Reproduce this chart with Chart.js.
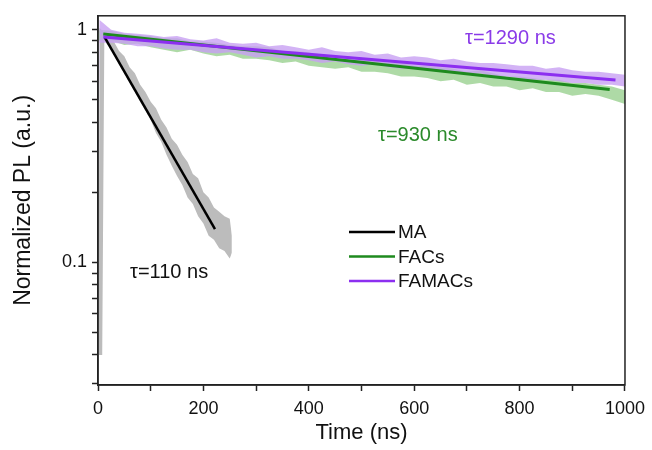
<!DOCTYPE html>
<html>
<head>
<meta charset="utf-8">
<script src="https://cdn.jsdelivr.net/npm/chart.js@4.4.1/dist/chart.umd.min.js"></script>
<style>
  html, body { margin: 0; padding: 0; background: #fff; }
</style>
</head>
<body>
<canvas id="chart" width="652" height="450"></canvas>
<script>
// tick positions and labels
const xTicks = [0, 100, 200, 300, 400, 500, 600, 700, 800, 900, 1000];
const xLabels = [0, 200, 400, 600, 800, 1000];
const yTicks = [0.03, 0.04, 0.05, 0.06, 0.07, 0.08, 0.09, 0.1, 0.2, 0.3, 0.4, 0.5, 0.6, 0.7, 0.8, 0.9, 1];
const yLabels = [0.1, 1];

const seriesNames = ["MA", "FACs", "FAMACs"];
const tauLabels = ["τ=110 ns", "τ=930 ns", "τ=1290 ns"];

// MA raw decay (gray band, upper / lower edge of the noise)
const maTime = [1, 3, 8, 12, 20, 30, 40, 50, 60, 70, 80, 90, 100, 110, 120, 130, 140, 150, 160, 170, 180, 190, 200, 210, 220, 230, 240, 250, 254];
const maHigh = [0.045, 1.02, 0.99, 0.97, 0.93, 0.89, 0.81, 0.77, 0.69, 0.65, 0.58, 0.54, 0.49, 0.46, 0.41, 0.38, 0.34, 0.32, 0.29, 0.27, 0.24, 0.23, 0.20, 0.19, 0.172, 0.165, 0.158, 0.154, 0.13];
const maLow = [0.04, 0.04, 0.04, 0.90, 0.85, 0.78, 0.71, 0.65, 0.59, 0.54, 0.49, 0.45, 0.41, 0.36, 0.33, 0.29, 0.26, 0.235, 0.215, 0.19, 0.178, 0.158, 0.147, 0.13, 0.125, 0.115, 0.112, 0.104, 0.11];

// FACs / FAMACs raw decay
const rawTime = [0, 3, 25, 50, 75, 100, 125, 150, 175, 200, 225, 250, 275, 300, 325, 350, 375, 400, 425, 450, 475, 500, 525, 550, 575, 600, 625, 650, 675, 700, 725, 750, 775, 800, 825, 850, 875, 900, 925, 950, 975, 1000];
const facsHigh = [0.95, 1.00, 0.99, 0.96, 0.95, 0.94, 0.92, 0.92, 0.89, 0.89, 0.88, 0.86, 0.85, 0.85, 0.84, 0.81, 0.81, 0.80, 0.78, 0.76, 0.77, 0.75, 0.74, 0.72, 0.73, 0.70, 0.70, 0.69, 0.68, 0.66, 0.67, 0.65, 0.63, 0.63, 0.62, 0.61, 0.61, 0.59, 0.59, 0.58, 0.57, 0.55];
const facsLow = [0.90, 0.90, 0.90, 0.86, 0.87, 0.84, 0.82, 0.80, 0.82, 0.79, 0.77, 0.78, 0.75, 0.75, 0.74, 0.72, 0.73, 0.70, 0.69, 0.68, 0.69, 0.66, 0.66, 0.65, 0.63, 0.63, 0.62, 0.60, 0.61, 0.58, 0.59, 0.57, 0.57, 0.55, 0.56, 0.54, 0.54, 0.52, 0.53, 0.52, 0.50, 0.48];
const famacsHigh = [0.27, 1.10, 1.00, 0.97, 0.96, 0.95, 0.93, 0.94, 0.91, 0.90, 0.92, 0.88, 0.87, 0.88, 0.85, 0.86, 0.84, 0.82, 0.84, 0.81, 0.80, 0.81, 0.78, 0.79, 0.76, 0.77, 0.76, 0.74, 0.75, 0.73, 0.72, 0.72, 0.71, 0.70, 0.70, 0.68, 0.69, 0.67, 0.66, 0.66, 0.65, 0.64];
const famacsLow = [0.25, 0.88, 0.88, 0.87, 0.85, 0.85, 0.83, 0.82, 0.82, 0.80, 0.79, 0.80, 0.78, 0.76, 0.77, 0.75, 0.75, 0.74, 0.72, 0.73, 0.71, 0.70, 0.71, 0.69, 0.68, 0.68, 0.67, 0.66, 0.66, 0.64, 0.65, 0.63, 0.63, 0.62, 0.61, 0.61, 0.60, 0.59, 0.59, 0.58, 0.58, 0.57];

// single exponential fits (start / end)
const maFitTime = [13, 222];
const maFit = [0.924, 0.139];
const facsFitTime = [10, 971];
const facsFit = [0.958, 0.553];
const famacsFitTime = [10, 982];
const famacsFit = [0.93, 0.608];

const fitColors = ["#000000", "#1e8a1e", "#8c2ff0"];
const rawColors = ["rgba(188,188,188,1)", "rgba(160,212,150,0.85)", "rgba(200,160,242,0.8)"];
const tauColors = ["#111111", "#2a8a2a", "#8a3be8"];

const family = "'Liberation Sans', Arial, sans-serif";
const axisColor = "#222";

const pts = (xs, ys) => xs.map((x, i) => ({ x: x, y: ys[i] }));

const band = (xs, ys, color, order, fill) => ({
  data: pts(xs, ys),
  borderWidth: 0,
  pointRadius: 0,
  backgroundColor: color,
  fill: fill,
  order: order,
});

const fit = (xs, ys, color, label, order, width) => ({
  label: label,
  data: pts(xs, ys),
  borderColor: color,
  backgroundColor: color,
  borderWidth: width,
  pointRadius: 0,
  fill: false,
  order: order,
});

const extras = {
  id: "extras",
  afterDraw(chart) {
    const { ctx, chartArea: a } = chart;
    ctx.save();
    // frame
    ctx.strokeStyle = axisColor;
    ctx.lineWidth = 1.5;
    ctx.strokeRect(a.left, a.top, a.right - a.left, a.bottom - a.top);

    // legend
    ctx.font = "19px " + family;
    ctx.textBaseline = "middle";
    ctx.textAlign = "left";
    seriesNames.forEach((name, i) => {
      const y = 232 + i * 24.5;
      ctx.strokeStyle = fitColors[i];
      ctx.lineWidth = 2.5;
      ctx.beginPath();
      ctx.moveTo(349, y);
      ctx.lineTo(395, y);
      ctx.stroke();
      ctx.fillStyle = "#111";
      ctx.fillText(name, 398, y + 1);
    });

    // lifetime labels
    ctx.font = "20px " + family;
    const tauPos = [[130, 272], [378, 135], [465, 38]];
    tauLabels.forEach((t, i) => {
      ctx.fillStyle = tauColors[i];
      ctx.fillText(t, tauPos[i][0], tauPos[i][1]);
    });
    ctx.restore();
  },
};

new Chart(document.getElementById("chart"), {
  type: "line",
  data: {
    datasets: [
      fit(famacsFitTime, famacsFit, fitColors[2], "FAMACs", 0, 3),
      fit(facsFitTime, facsFit, fitColors[1], "FACs", 1, 3),
      fit(maFitTime, maFit, fitColors[0], "MA", 2, 2.5),
      band(rawTime, famacsHigh, rawColors[2], 3, "+1"),
      band(rawTime, famacsLow, rawColors[2], 3, false),
      band(rawTime, facsHigh, rawColors[1], 4, "+1"),
      band(rawTime, facsLow, rawColors[1], 4, false),
      band(maTime, maHigh, rawColors[0], 5, "+1"),
      band(maTime, maLow, rawColors[0], 5, false),
    ],
  },
  options: {
    responsive: false,
    animation: false,
    layout: { padding: { top: 15, right: 24, bottom: 0, left: 0 } },
    plugins: {
      legend: { display: false },
      tooltip: { enabled: false },
    },
    scales: {
      x: {
        type: "linear",
        min: 0,
        max: 1000,
        afterBuildTicks: (s) => {
          s.ticks = xTicks.map((v) => ({ value: v }));
        },
        afterFit: (s) => {
          s.height = 65;
        },
        ticks: {
          autoSkip: false,
          maxRotation: 0,
          padding: 7,
          color: "#111",
          font: { size: 18, family: family },
          callback: (v) => (xLabels.includes(v) ? String(v) : ""),
        },
        grid: { drawOnChartArea: false, tickLength: 6, tickWidth: 1.5, color: axisColor },
        border: { color: axisColor, width: 1.5 },
        title: {
          display: true,
          text: "Time (ns)",
          color: "#111",
          font: { size: 22, family: family },
          padding: { top: 0, bottom: 4 },
        },
      },
      y: {
        type: "logarithmic",
        min: 0.0297,
        max: 1.148,
        afterBuildTicks: (s) => {
          s.ticks = yTicks.map((v) => ({ value: v }));
        },
        afterFit: (s) => {
          s.width = 98;
        },
        ticks: {
          autoSkip: false,
          padding: 5,
          color: "#111",
          font: { size: 18, family: family },
          callback: (v) => (yLabels.includes(v) ? String(v) : ""),
        },
        grid: { drawOnChartArea: false, tickLength: 6, tickWidth: 1.5, color: axisColor },
        border: { color: axisColor, width: 1.5 },
        title: {
          display: true,
          text: "Normalized PL (a.u.)",
          color: "#111",
          font: { size: 23, family: family },
          padding: { top: 10, bottom: 0 },
        },
      },
    },
  },
  plugins: [extras],
});
</script>
</body>
</html>
